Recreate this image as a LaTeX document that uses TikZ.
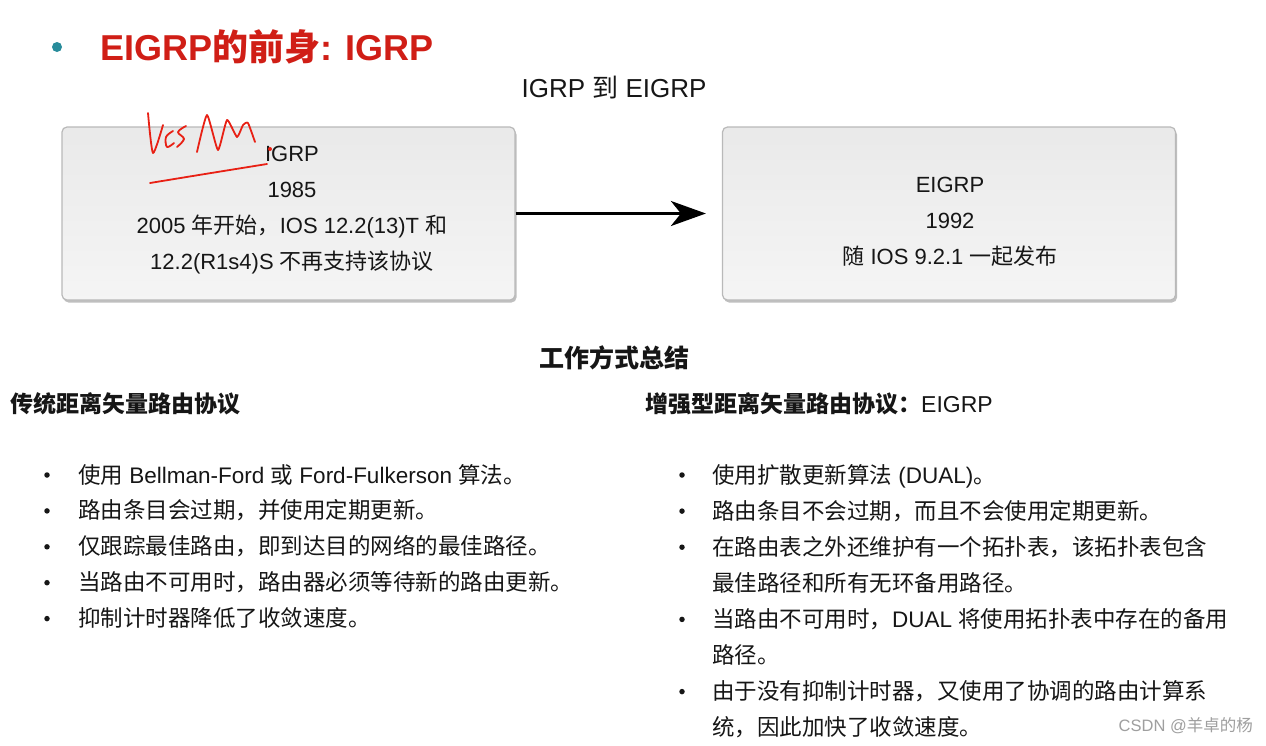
\documentclass[tikz,border=0pt]{standalone}
\usepackage{fontspec}
\setmainfont{Liberation Sans}
\newfontfamily\zhfont{Noto Sans CJK SC}
\newcommand\zh[1]{{\zhfont #1}}
\usetikzlibrary{positioning,
                arrows.meta,                % arrow tips
                shadows}                    % shadow under the boxes

\definecolor{titlered}{RGB}{208,30,22}
\definecolor{dotteal}{RGB}{40,140,155}
\definecolor{inkred}{RGB}{232,32,20}
\definecolor{textgray}{RGB}{22,22,22}

\tikzset{
  yearbox/.style={draw=gray!55, line width=1.2pt, rounded corners=5pt,
    top color=gray!17, bottom color=gray!8,
    minimum width=453pt, minimum height=173pt,
    drop shadow={shadow xshift=1.5pt, shadow yshift=-2.5pt, opacity=0.25, fill=black}},
  boxtext/.style={align=center, text=textgray, font=\fontsize{22}{36}\selectfont},
  item/.style={anchor=base west, inner sep=0pt, text=textgray,
    font=\fontsize{22.5}{36}\selectfont},
  itemdot/.style={circle, fill=textgray, inner sep=0pt, minimum size=5.5pt},
  subhead/.style={anchor=west, inner sep=0pt, text=textgray,
    font=\fontsize{23}{28}\selectfont\bfseries},
  ink/.style={inkred, line width=1.8pt, line cap=round, line join=round}
}

\begin{document}
\begin{tikzpicture}[x=1pt, y=-1pt]
    \useasboundingbox (0,0) rectangle (1266,745);
    \fill[white] (0,0) rectangle (1266,745);

    % slide title
    \node[circle, fill=dotteal, inner sep=0pt, minimum size=10pt] (titledot) at (57,47) {};
    \node[anchor=base west, inner sep=0pt, text=titlered,
          font=\fontsize{36}{40}\selectfont\bfseries] (title) at (100,60)
          {EIGRP\zh{的前身}: IGRP};
    \node[anchor=base, inner sep=0pt, text=textgray, font=\fontsize{26}{30}\selectfont]
          (caption) at (614,97) {IGRP \zh{到} EIGRP};

    % the two protocols
    \node[yearbox] (igrp) at (288.5,213.5) {};
    \node[yearbox] (eigrp) at (949,213.5) {};
    \node[boxtext] (igrptxt) at (292,210.5)
          {IGRP\\1985\\2005 \zh{年开始，}IOS 12.2(13)T \zh{和}\\12.2(R1s4)S \zh{不再支持该协议}};
    \node[boxtext] (eigrptxt) at (950,222)
          {EIGRP\\1992\\\zh{随} IOS 9.2.1 \zh{一起发布}};
    \draw[-{Stealth[length=35pt, width=25pt, inset=10pt]}, line width=3pt,
          shorten >=16pt] (igrp) -- (eigrp);

    % hand written note
    \draw[ink] plot[smooth, tension=0.4] coordinates {(148,113) (153,153) (163,125)};
    \draw[ink] plot[smooth, tension=0.6] coordinates {(173,131) (166,137) (167,147) (174,143)};
    \draw[ink] plot[smooth, tension=0.6] coordinates {(186,126) (178,132) (184,139) (177,147)};
    \draw[ink] plot[smooth, tension=0.3] coordinates
          {(197,152) (207,115) (218,150) (227,120) (237,137) (243,125) (248,123) (255,142)};
    \draw[ink] plot[smooth, tension=0.5] coordinates {(150,183) (205,174) (267,164)};
    \fill[inkred] (270,149) circle (2pt);

    % summary
    \node[text=textgray, font=\fontsize{25}{30}\selectfont\bfseries] (summary) at (614,358)
          {\zh{工作方式总结}};
    \node[subhead] (oldhead) at (10,404) {\zh{传统距离矢量路由协议}};
    \node[subhead] (newhead) at (645,404) {\zh{增强型距离矢量路由协议：}\mdseries EIGRP};

    \foreach \t [count=\i from 0] in {
        {\zh{使用} Bellman-Ford \zh{或} Ford-Fulkerson \zh{算法。}},
        {\zh{路由条目会过期，并使用定期更新。}},
        {\zh{仅跟踪最佳路由，即到达目的网络的最佳路径。}},
        {\zh{当路由不可用时，路由器必须等待新的路由更新。}},
        {\zh{抑制计时器降低了收敛速度。}}}{
      \node[item] (old\i) at ({78},{483+35.9*\i}) {\t};
      \node[itemdot] (olddot\i) at ({47},{475+35.9*\i}) {};
    }

    \foreach \t/\b [count=\i from 0] in {
        {\zh{使用扩散更新算法} (DUAL)\zh{。}}/1,
        {\zh{路由条目不会过期，而且不会使用定期更新。}}/1,
        {\zh{在路由表之外还维护有一个拓扑表，该拓扑表包含}}/1,
        {\zh{最佳路径和所有无环备用路径。}}/0,
        {\zh{当路由不可用时，}DUAL \zh{将使用拓扑表中存在的备用}}/1,
        {\zh{路径。}}/0,
        {\zh{由于没有抑制计时器，又使用了协调的路由计算系}}/1,
        {\zh{统，因此加快了收敛速度。}}/0}{
      \node[item] (new\i) at ({712},{483+36.1*\i}) {\t};
      \ifnum\b=1
        \node[itemdot] (newdot\i) at ({682},{475+36.1*\i}) {};
      \fi
    }

    \node[anchor=east, inner sep=0pt, text=gray!75, font=\fontsize{16.5}{20}\selectfont]
          (mark) at (1253,726) {CSDN @\zh{羊卓的杨}};
\end{tikzpicture}
\end{document}
